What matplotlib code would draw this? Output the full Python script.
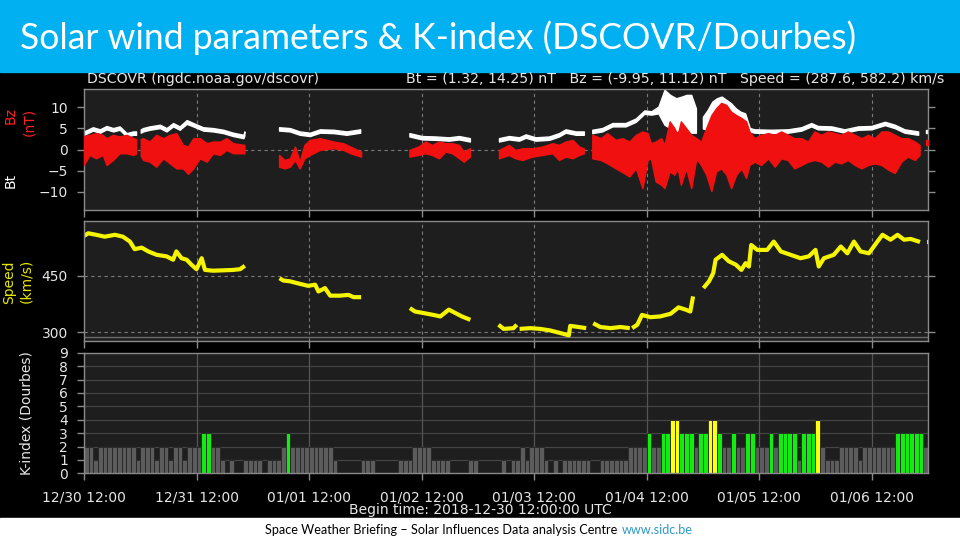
import numpy as np
import matplotlib
matplotlib.use('Agg')
import matplotlib.pyplot as plt
from matplotlib.patches import Rectangle

nan = np.nan

# hours since 2018-12-30 12:00 UTC, nan marks a data gap
bz_t = [0.0, 1.2, 2.6, 4.0, 4.8, 6.2, 7.6, 9.1, 10.5, 11.1, nan,
        12.1, 12.6, 14.0, 15.4, 16.9, 18.3, 19.7, 21.1, 22.2, 23.3, 24.7, 26.2, 27.5, 29.0, 30.4, 31.8, 34.2, nan,
        41.6, 42.8, 43.9, 45.0, 46.0, 47.0, 48.2, 50.3, 53.2, 55.3, 56.8, 59.1, nan,
        69.4, 71.3, 72.8, 74.2, 75.7, 77.1, 78.5, 80.0, 81.0, 82.3, nan,
        88.5, 90.6, 92.0, 93.5, 95.6, 97.7, 99.9, 101.3, 102.7, 104.2, 105.6, 106.6, nan,
        108.4, 110.2, 111.6, 113.4, 114.8, 116.3, 117.7, 119.1,
        120.2, 120.9, 121.9, 123.1, 123.8, 124.9, 125.9, 126.6, 127.3, 128.4, 129.5, 130.6, 131.6, 132.7, 133.8,
        134.8, 135.9, 137.0, 138.0, 139.1, 140.2, 141.2, 141.9,
        143.0, 144.4, 145.9, 147.3, 148.7, 150.1, 151.5, 153.0, 154.4, 155.8, 157.2, 158.7, 160.1, 161.5, 162.9,
        164.4, 165.8, 167.2, 168.6, 170.1, 171.5, 172.9, 174.3, 175.7, 177.2, 178.2, nan,
        179.6, 180.0]
bz_lo = [-3.6, -1.3, -2.1, -1.3, -3.7, -2.5, -0.9, -0.9, -1.3, -1.0, nan,
         -1.5, -2.5, -2.9, -4.1, -2.1, -3.3, -4.5, -4.5, -5.8, -4.5, -2.1, -2.9, -0.9, -1.3, -0.1, -0.9, -0.9, nan,
         -4.1, -4.5, -4.1, -2.5, -4.5, -2.1, -1.3, -0.1, 0.3, -0.1, -0.9, -1.7, nan,
         -1.7, -1.3, -0.9, -1.3, -2.1, -0.5, -0.9, -2.1, -2.9, -1.7, nan,
         -2.1, -1.3, -2.1, -2.5, -1.7, -1.3, -0.9, -2.5, -1.7, -2.1, -1.3, -0.9, nan,
         -2.1, -2.5, -3.3, -4.5, -5.4, -6.4, -4.5, -9.2,
         -2.5, -2.1, -7.6, -8.4, -9.2, -5.2, -6.0, -4.5, -8.4, -4.5, -9.2, -2.1, -3.7, -6.0, -9.9,
         -5.2, -4.5, -6.0, -9.2, -6.0, -4.5, -6.8, -3.7,
         -2.9, -3.7, -2.1, -4.1, -2.1, -2.5, -4.5, -3.7, -2.9, -2.5, -2.9, -4.1, -2.9, -3.3, -2.5,
         -3.7, -4.5, -3.7, -3.3, -3.7, -4.8, -5.6, -2.9, -1.7, -2.5, -1.3, nan,
         1.0, 1.0]
bz_hi = [3.2, 3.5, 3.9, 3.5, 2.7, 3.5, 3.1, 3.5, 2.7, 2.5, nan,
         2.5, 2.7, 1.9, 3.5, 2.7, 3.5, 3.9, 1.1, 0.7, 2.7, 2.7, 1.5, 1.9, 1.9, 2.7, 1.5, 1.1, nan,
         -1.3, -2.5, -2.1, 0.7, -2.9, 1.1, 2.3, 2.7, 1.9, 1.5, 0.7, -0.5, nan,
         -0.1, 0.7, 1.9, 1.1, 1.9, 1.5, 1.5, 1.1, -0.5, 0.3, nan,
         -0.1, 1.1, -0.1, 0.3, 0.3, 0.7, 1.5, 1.1, 1.9, 2.3, 0.7, 0.3, nan,
         3.5, 2.7, 3.9, 2.3, 2.7, 1.9, 3.5, 4.3,
         3.9, 1.5, 1.9, 2.7, 1.1, 6.7, 5.1, 3.5, 6.7, 5.1, 3.5, 2.7, 1.9, 5.1, 8.2,
         9.8, 11.1, 10.6, 9.0, 8.2, 7.5, 6.7, 4.3,
         2.7, 3.5, 3.9, 3.5, 4.3, 3.5, 2.7, 2.7, 1.9, 4.3, 3.5, 4.3, 3.9, 3.5, 4.3,
         3.5, 2.7, 3.5, 2.7, 4.3, 4.3, 3.5, 2.7, 2.7, 1.9, 1.1, nan,
         2.2, 2.2]

bt_t = [0.0, 1.9, 3.4, 4.8, 6.2, 7.6, 9.1, 10.5, 11.1, nan,
        12.1, 12.6, 14.0, 16.2, 17.6, 19.0, 20.4, 21.9, 23.3, 25.4, 27.5, 29.7, 31.8, 34.0, 34.2, nan,
        41.6, 43.9, 46.0, 48.2, 50.3, 53.2, 56.0, 58.9, nan,
        69.4, 72.1, 75.0, 77.8, 80.0, 82.3, nan,
        88.5, 90.6, 92.8, 94.2, 96.3, 99.2, 101.3, 102.7, 104.9, 106.6, nan,
        108.4, 110.5, 112.7, 115.5, 117.7, 119.5, 121.0, 122.5, 123.8, 125.0, 126.3, 127.5, 128.5, 129.5, 130.5, nan,
        132.0, 133.0, 134.0, 135.0, 136.0, 137.0, 138.0, 139.0, 140.0, 141.0, 142.0, 143.0, 146.6,
        150.1, 153.0, 155.1, 156.5, 159.4, 162.2, 165.1, 167.9, 170.8, 172.9, 175.0, 177.9, nan,
        179.6, 180.0]
bt_lo = [3.5, 4.5, 4.0, 4.8, 4.3, 4.7, 3.1, 3.5, 3.5, nan,
         4.0, 4.3, 4.7, 5.1, 4.3, 5.5, 4.7, 6.1, 5.5, 4.5, 4.3, 3.9, 3.2, 2.7, 3.3, nan,
         4.5, 4.3, 3.5, 3.2, 4.0, 3.9, 3.5, 4.0, nan,
         3.1, 2.4, 2.3, 2.1, 2.4, 1.9, nan,
         1.9, 2.4, 2.1, 2.8, 2.1, 2.3, 3.1, 4.0, 3.5, 3.5, nan,
         3.9, 4.3, 5.5, 5.5, 6.6, 8.5, 8.3, 8.6, 5.9, 5.1, 4.3, 5.1, 5.0, 4.0, 4.0, nan,
         5.0, 4.7, 7.5, 9.0, 9.4, 9.0, 8.2, 7.9, 6.7, 6.0, 4.3, 4.0, 3.9,
         4.0, 4.5, 5.5, 4.8, 4.7, 4.0, 4.7, 4.8, 5.8, 5.1, 4.0, 3.5, nan,
         3.9, 3.9]
bt_hi = [4.3, 5.3, 4.8, 5.6, 5.1, 5.5, 3.9, 4.3, 4.3, nan,
         4.8, 5.1, 5.5, 5.9, 5.1, 6.3, 5.5, 7.0, 6.3, 5.3, 5.1, 4.7, 4.0, 3.5, 4.3, nan,
         5.3, 5.1, 4.3, 4.0, 4.8, 4.7, 4.3, 4.8, nan,
         3.9, 3.2, 3.1, 2.9, 3.2, 2.7, nan,
         2.7, 3.2, 2.9, 3.6, 2.9, 3.1, 3.9, 4.8, 4.3, 4.3, nan,
         4.7, 5.1, 6.3, 6.3, 7.4, 9.3, 9.1, 10.2, 14.2, 13.0, 12.2, 12.6, 13.0, 13.0, 9.8, nan,
         7.8, 9.4, 11.4, 12.2, 12.6, 11.8, 11.0, 9.8, 9.0, 8.6, 5.1, 4.8, 4.7,
         4.8, 5.3, 6.3, 5.6, 5.5, 4.8, 5.5, 5.6, 6.6, 5.9, 4.8, 4.3, nan,
         4.7, 4.7]

sp_t = [0.0, 0.9, 2.6, 4.4, 6.6, 8.3, 9.8, 10.8, 12.3, 13.7, 15.5, 17.6, 19.0, 19.7, 20.8, 21.9, 22.9,
        24.0, 25.1, 25.8, 27.5, 29.7, 31.8, 33.3, 34.3, nan,
        41.7, 42.5, 43.9, 46.1, 47.8, 49.3, 50.0, 51.4, 52.5, 54.6, 56.4, 57.5, 59.1, nan,
        69.5, 70.6, 72.4, 74.5, 76.0, 77.8, 79.2, 80.6, 82.4, nan,
        88.4, 89.5, 91.6, 92.3, nan,
        92.9, 95.2, 97.3, 99.4, 101.6, 103.4, 103.7, 105.5, 107.1, nan,
        108.6, 110.1, 112.3, 114.4, 116.4, nan,
        116.9, 118.0, 119.0, 120.8, 122.9, 125.1, 126.8, 128.3, 129.3, 129.9, nan,
        132.1, 133.3, 134.2, 134.7, 136.1, 137.5, 139.0, 140.2, 141.1, 141.8, 142.3, 143.6, 145.7, 147.1,
        148.6, 150.7, 152.8, 154.6, 156.0, 156.7, 157.8, 159.9, 161.4, 162.8, 164.2, 165.6, 167.4, 169.2,
        170.3, 172.0, 173.5, 174.9, 176.3, 178.3, nan,
        179.7, 180.0]
sp_v = [555, 562, 558, 553, 558, 553, 540, 520, 524, 514, 505, 501, 492, 514, 496, 492, 479,
        467, 496, 465, 463, 464, 465, 467, 476, nan,
        443, 437, 435, 428, 423, 426, 408, 417, 397, 397, 399, 393, 393, nan,
        364, 355, 351, 346, 342, 360, 351, 342, 333, nan,
        320, 309, 311, 320, nan,
        309, 311, 309, 305, 298, 292, 317, 314, 311, nan,
        324, 314, 311, 314, 311, nan,
        311, 320, 346, 340, 342, 349, 366, 360, 355, 395, nan,
        417, 435, 457, 492, 505, 488, 479, 465, 483, 474, 531, 518, 518, 540,
        514, 505, 496, 501, 518, 474, 496, 505, 527, 509, 540, 514, 509, 540,
        558, 545, 558, 545, 547, 539, nan,
        539, 539]

# hourly K-index (Dourbes), one row per day
k_index = [2, 2, 1, 2, 2, 2, 2, 2, 2, 2, 2, 1, 2, 2, 2, 1, 2, 2, 1, 2, 2, 1, 2, 2,
           2, 3, 3, 2, 2, 1, 0, 1, 0, 0, 1, 1, 1, 1, 0, 1, 1, 1, 2, 3, 2, 2, 2, 2,
           2, 2, 2, 2, 2, 1, 0, 0, 0, 0, 0, 1, 1, 1, 0, 0, 0, 0, 0, 1, 1, 1, 2, 2,
           2, 2, 1, 1, 1, 1, 0, 0, 0, 0, 1, 1, 0, 0, 0, 0, 0, 1, 0, 1, 1, 2, 1, 2,
           2, 2, 1, 0, 1, 0, 1, 1, 1, 1, 1, 1, 0, 0, 1, 1, 1, 1, 1, 1, 2, 2, 2, 2,
           3, 2, 2, 3, 3, 4, 4, 3, 3, 3, 2, 3, 3, 4, 4, 3, 2, 2, 3, 2, 2, 3, 3, 2,
           2, 2, 3, 2, 3, 3, 3, 3, 1, 3, 3, 3, 4, 2, 1, 1, 1, 2, 2, 2, 2, 1, 2, 2,
           2, 2, 2, 2, 2, 3, 3, 3, 3, 3, 3, 2]

day_ticks = [0, 24, 48, 72, 96, 120, 144, 168]
day_labels = ['12/30 12:00', '12/31 12:00', '01/01 12:00', '01/02 12:00',
              '01/03 12:00', '01/04 12:00', '01/05 12:00', '01/06 12:00']


def runs(t):
    """ slices of the pieces between nan gaps """
    t = np.asarray(t, dtype=float)
    gaps = np.flatnonzero(np.isnan(t))
    edges = np.concatenate([[-1], gaps, [len(t)]])
    return [slice(a + 1, b) for a, b in zip(edges[:-1], edges[1:]) if b - a > 1]


W, H = 960, 540
fig = plt.figure(figsize=(9.6, 5.4), dpi=100, facecolor='black')

# slide decoration: title bar and footer strip
fig.patches.append(Rectangle((0, 1 - 72 / H), 1, 72 / H, transform=fig.transFigure,
                             color='#00b0f0', zorder=0))
fig.patches.append(Rectangle((0, 0), 1, 22 / H, transform=fig.transFigure,
                             color='white', zorder=0))
fig.text(20 / W, 1 - 38 / H, 'Solar wind parameters & K-index (DSCOVR/Dourbes)',
         color='white', fontsize=25.6, family='Lato', weight='normal', va='center')
fig.text(617 / W, 10 / H, 'Space Weather Briefing \u2013 Solar Influences Data analysis Centre',
         color='black', fontsize=9.1, family='Lato', ha='right', va='center')
fig.text(622 / W, 10 / H, 'www.sidc.be', color='#2e9ac4', fontsize=9.1,
         family='Lato', ha='left', va='center')

FG = '#e6e6e6'
EDGE = '#8a8a8a'
GRID = '#7a7a7a'
FS = 10


def panel(top, bottom):
    ax = fig.add_axes([84 / W, 1 - bottom / H, 844 / W, (bottom - top) / H], facecolor='#1e1e1e')
    for s in ax.spines.values():
        s.set_color(EDGE)
        s.set_linewidth(1.0)
    ax.tick_params(colors=EDGE, labelcolor=FG, labelsize=FS, length=5, width=1,
                   direction='out', pad=6.5)
    ax.set_xlim(0, 180)
    ax.set_xticks(day_ticks)
    ax.set_xticklabels([])
    return ax


# ---- Bt / Bz panel
ax1 = panel(89, 210)
ax1.set_ylim(-14.4, 14.4)
ax1.set_yticks([-10, -5, 0, 5, 10])
ax1.tick_params(axis='y', right=True)
ax1.axhline(0, color=GRID, ls=(0, (3, 3)), lw=0.8, zorder=1)
for d in day_ticks[1:]:
    ax1.axvline(d, color=GRID, ls=(0, (3, 3)), lw=0.8, zorder=1)

t = np.array(bt_t)
lo, hi = np.array(bt_lo), np.array(bt_hi)
for s in runs(bt_t):
    ax1.fill_between(t[s], lo[s], hi[s], color='white', lw=1.0, zorder=2)
t = np.array(bz_t)
lo, hi = np.array(bz_lo), np.array(bz_hi)
for s in runs(bz_t):
    ax1.fill_between(t[s], lo[s], hi[s], color='#f01010', lw=1.0, zorder=3)

fig.text(11 / W, 1 - 116 / H, 'Bz', color='#ff2020', fontsize=FS, rotation=90, ha='center', va='center')
fig.text(29 / W, 1 - 122 / H, '(nT)', color='#ff2020', fontsize=FS, rotation=90, ha='center', va='center')
fig.text(11 / W, 1 - 180 / H, 'Bt', color='white', fontsize=FS, rotation=90, ha='center', va='center')

fig.text(87 / W, 1 - 79 / H, 'DSCOVR (ngdc.noaa.gov/dscovr)', color=FG, fontsize=10.2, va='center')
fig.text(944 / W, 1 - 79 / H,
         'Bt = (1.32, 14.25) nT   Bz = (-9.95, 11.12) nT   Speed = (287.6, 582.2) km/s',
         color=FG, fontsize=10.2, va='center', ha='right')

# ---- speed panel
ax2 = panel(221, 341)
ax2.set_ylim(277, 594.5)
ax2.set_yticks([300, 450])
ax2.tick_params(axis='y', right=True)
for y in [300, 450]:
    ax2.axhline(y, color=GRID, ls=(0, (3, 3)), lw=0.8, zorder=1)
ax2.axhline(288, color='#6a6a6a', lw=1.0, zorder=1)
for d in day_ticks[1:]:
    ax2.axvline(d, color=GRID, ls=(0, (3, 3)), lw=0.8, zorder=1)

t = np.array(sp_t)
v = np.array(sp_v)
for s in runs(sp_t):
    ax2.plot(t[s], v[s], color='#f5f500', lw=3.0, solid_capstyle='butt', zorder=2)

fig.text(9 / W, 1 - 282 / H, 'Speed', color='#e8e800', fontsize=FS, rotation=90, ha='center', va='center')
fig.text(26 / W, 1 - 281 / H, '(km/s)', color='#e8e800', fontsize=FS, rotation=90, ha='center', va='center')

# ---- K-index panel
ax3 = panel(352.7, 473.3)
ax3.set_ylim(0, 9)
ax3.set_yticks(range(10))
for y in range(1, 9):
    ax3.axhline(y, color='#444444', lw=0.9, zorder=1)
for d in day_ticks[1:]:
    ax3.axvline(d, color='#555555', lw=0.9, zorder=1)

k = np.array(k_index)
hours = np.arange(len(k)) + 0.5
kcol = np.where(k >= 4, '#ffff10', np.where(k == 3, '#10ee10', '#5c5c5c'))
ax3.bar(hours, k, width=1.0, color=kcol, edgecolor='#262626', linewidth=0.6, zorder=2)
ax3.set_xticklabels(day_labels)
ax3.tick_params(axis='x', pad=7.5)

fig.text(27 / W, 1 - 413 / H, 'K-index (Dourbes)', color=FG, fontsize=FS, rotation=90,
         ha='center', va='center')
fig.text(480 / W, 1 - 510 / H, 'Begin time: 2018-12-30 12:00:00 UTC', color=FG,
         fontsize=FS, ha='center', va='center')

fig.savefig('out.png', dpi=100, facecolor='black')
